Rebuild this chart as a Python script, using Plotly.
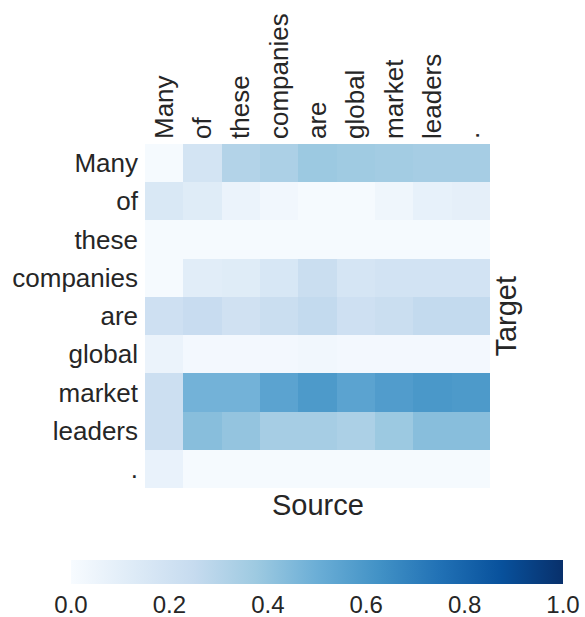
import plotly.graph_objects as go

source_tokens = ["Many", "of", "these", "companies", "are", "global", "market", "leaders", "."]
target_tokens = ["Many", "of", "these", "companies", "are", "global", "market", "leaders", "."]

row_many      = [0.01, 0.18, 0.31, 0.33, 0.38, 0.37, 0.36, 0.35, 0.35]
row_of        = [0.15, 0.12, 0.06, 0.03, 0.01, 0.01, 0.04, 0.08, 0.09]
row_these     = [0.01, 0.01, 0.01, 0.01, 0.01, 0.01, 0.01, 0.01, 0.01]
row_companies = [0.01, 0.11, 0.12, 0.16, 0.23, 0.17, 0.19, 0.19, 0.19]
row_are       = [0.21, 0.24, 0.20, 0.23, 0.26, 0.21, 0.23, 0.26, 0.26]
row_global    = [0.06, 0.02, 0.02, 0.02, 0.03, 0.02, 0.02, 0.02, 0.02]
row_market    = [0.22, 0.48, 0.48, 0.55, 0.59, 0.55, 0.58, 0.60, 0.59]
row_leaders   = [0.22, 0.43, 0.40, 0.35, 0.35, 0.33, 0.38, 0.43, 0.43]
row_period    = [0.07, 0.01, 0.01, 0.01, 0.01, 0.01, 0.01, 0.01, 0.01]

z = [row_many, row_of, row_these, row_companies, row_are,
     row_global, row_market, row_leaders, row_period]

cbar_ticks = [0, 0.2, 0.4, 0.6, 0.8, 1.0]
cbar_labels = ["0.0", "0.2", "0.4", "0.6", "0.8", "1.0"]

blues = ["#f7fbff", "#deebf7", "#c6dbef", "#9ecae1", "#6baed6",
         "#4292c6", "#2171b5", "#08519c", "#08306b"]
colorscale = [[i / 8, c] for i, c in enumerate(blues)]

TXT = "#262626"
FONT = "Liberation Sans, Arial, sans-serif"

fig = go.Figure(go.Heatmap(
    z=z, x=source_tokens, y=target_tokens,
    zmin=0, zmax=1, colorscale=colorscale, xgap=0, ygap=0,
    colorbar=dict(
        orientation="h", x=0.4986, xanchor="center",
        y=-0.2093, yanchor="top", yref="paper",
        len=492, lenmode="pixels", thickness=24, outlinewidth=0,
        tickvals=cbar_ticks, ticktext=cbar_labels,
        ticks="", tickfont=dict(size=24, color=TXT, family=FONT), ypad=0, xpad=0,
    ),
))

fig.update_layout(
    width=585, height=617,
    margin=dict(l=145, r=95, t=144, b=129, autoexpand=False),
    paper_bgcolor="white", plot_bgcolor="white",
    font=dict(family=FONT, color=TXT),
    xaxis=dict(side="top", tickangle=-90, showgrid=False, zeroline=False, ticks="",
               tickfont=dict(size=26, color=TXT), showline=False, ticklabelstandoff=4),
    yaxis=dict(autorange="reversed", showgrid=False, zeroline=False, ticks="",
               tickfont=dict(size=26, color=TXT), showline=False, ticklabelstandoff=6),
    annotations=[
        dict(text="Source", x=0.5, y=-0.0494, xref="paper", yref="paper",
             xanchor="center", yanchor="middle", showarrow=False,
             font=dict(size=29, color=TXT, family=FONT)),
        dict(text="Target", x=0.993, y=0.5, xref="paper", yref="paper",
             xanchor="left", yanchor="middle", textangle=-90, showarrow=False,
             font=dict(size=29, color=TXT, family=FONT)),
    ],
)

fig.write_html("out.html")
